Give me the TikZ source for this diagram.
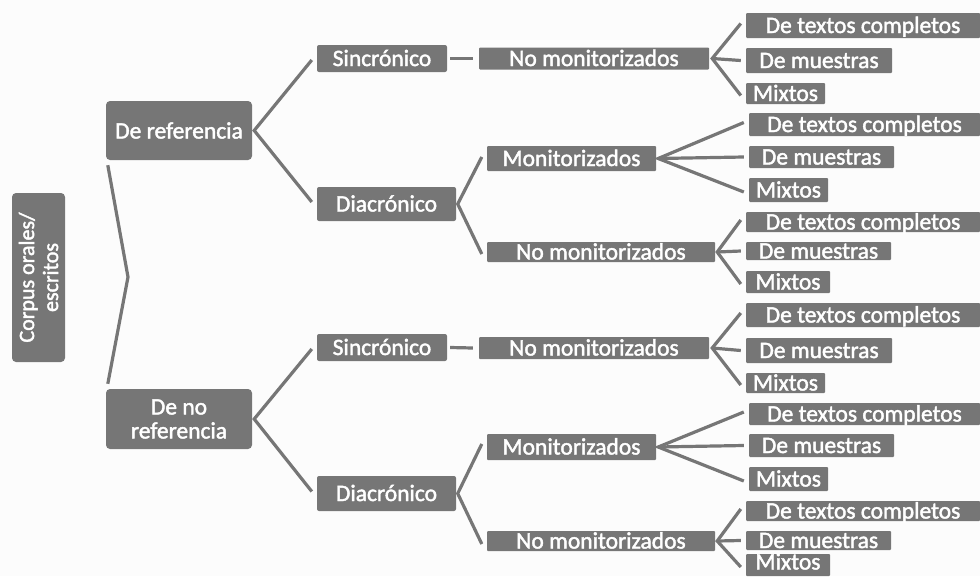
\documentclass[tikz,border=0pt]{standalone}
\usepackage{fontspec}
\setmainfont{Carlito}[FakeBold=1.8]
\usetikzlibrary{calc}
\definecolor{boxgray}{HTML}{767676}
\definecolor{paper}{HTML}{FCFCFC}
\tikzset{
  box/.style={fill=boxgray, text=white, inner sep=0pt, text height=15pt, text depth=0pt,
    font=\fontsize{23.5}{24}\selectfont, rounded corners=1pt},
  bigbox/.style={fill=boxgray, text=white, inner sep=0pt, align=center,
    font=\fontsize{23.5}{24}\selectfont, rounded corners=4pt},
  midbox/.style={box, rounded corners=2pt},
  link/.style={draw=boxgray, line width=3.2pt},
}
\begin{document}
\begin{tikzpicture}[x=1pt, y=-1pt]
\fill[paper] (0,0) rectangle (980,576);
\useasboundingbox (0,0) rectangle (980,576);
\clip (0,0) rectangle (980,576);

% root
\node[bigbox, rotate=90, minimum width=169pt, minimum height=53pt,
      font=\fontsize{22}{24}\selectfont] (root) at (38.5,277.5) {Corpus orales/\\escritos};

% first level
\node[bigbox, minimum width=146pt, minimum height=59pt] (refA) at (179,130.5) {De referencia};
\node[bigbox, minimum width=146pt, minimum height=60pt] (refB) at (179,419) {De no\\referencia};

% second level
\node[midbox, minimum width=130pt, minimum height=27pt] (sinA) at (382,58.5) {Sincrónico};
\node[midbox, minimum width=139pt, minimum height=34pt] (diaA) at (386.5,204) {Diacrónico};
\node[midbox, minimum width=130pt, minimum height=27pt] (sinB) at (382,347.5) {Sincrónico};
\node[midbox, minimum width=139pt, minimum height=35pt] (diaB) at (386.5,493.5) {Diacrónico};

% third level
\node[box, minimum width=230pt, minimum height=22pt] (nmA1) at (594,58.5) {No monitorizados};
\node[box, minimum width=169pt, minimum height=25pt] (monA) at (571.5,158.5) {Monitorizados};
\node[box, minimum width=228pt, minimum height=20pt] (nmA2) at (601,252) {No monitorizados};
\node[box, minimum width=230pt, minimum height=22pt] (nmB1) at (594,348) {No monitorizados};
\node[box, minimum width=169pt, minimum height=26pt] (monB) at (571.5,447) {Monitorizados};
\node[box, minimum width=228pt, minimum height=20pt] (nmB2) at (601,541) {No monitorizados};

% leaves
\node[box, minimum width=234pt, minimum height=25pt] (a1t) at (863,25.5) {De textos completos};
\node[box, minimum width=146pt, minimum height=25pt] (a1m) at (819,60.5) {De muestras};
\node[box, minimum width=79pt,  minimum height=21pt] (a1x) at (785.5,93.5) {Mixtos};

\node[box, minimum width=231pt, minimum height=23pt] (a2t) at (864.5,124.5) {De textos completos};
\node[box, minimum width=145pt, minimum height=22pt] (a2m) at (821.5,157) {De muestras};
\node[box, minimum width=79pt,  minimum height=24pt] (a2x) at (788.5,190) {Mixtos};

\node[box, minimum width=234pt, minimum height=20pt] (a3t) at (863,222) {De textos completos};
\node[box, minimum width=145pt, minimum height=18pt] (a3m) at (818.5,251) {De muestras};
\node[box, minimum width=84pt,  minimum height=22pt] (a3x) at (788,282) {Mixtos};

\node[box, minimum width=234pt, minimum height=24pt] (b1t) at (863,315) {De textos completos};
\node[box, minimum width=146pt, minimum height=25pt] (b1m) at (819,350.5) {De muestras};
\node[box, minimum width=79pt,  minimum height=20pt] (b1x) at (785.5,383) {Mixtos};

\node[box, minimum width=231pt, minimum height=22pt] (b2t) at (864.5,414) {De textos completos};
\node[box, minimum width=145pt, minimum height=23pt] (b2m) at (821.5,445.5) {De muestras};
\node[box, minimum width=79pt,  minimum height=24pt] (b2x) at (788.5,479) {Mixtos};

\node[box, minimum width=234pt, minimum height=20pt] (b3t) at (863,511) {De textos completos};
\node[box, minimum width=145pt, minimum height=19pt] (b3m) at (818.5,540.5) {De muestras};
% last box runs to the lower edge; its text sits a little higher
\node[box, text depth=6pt, minimum width=84pt, minimum height=22pt] (b3x) at (788,565) {Mixtos};

% brace joining the two first-level boxes
\coordinate (brace) at (128,277);
\draw[link, line join=miter] ([shift={(2pt,-5pt)}]refA.south west) -- (brace) -- ([shift={(2pt,5pt)}]refB.north west);

% first level -> second level
\foreach \p/\a/\b in {refA/sinA/diaA, refB/sinB/diaB}{
  \draw[link, line join=miter] ([xshift=-5pt,yshift=-1.5pt]\a.west) -- ([xshift=2pt]\p.east) -- ([xshift=-5pt,yshift=2pt]\b.west);
}

% synchronic -> unmonitored
\draw[link] ([xshift=3pt]sinA.east) -- ([xshift=-6pt]nmA1.west);
\draw[link] ([xshift=3pt]sinB.east) -- ([xshift=-6pt]nmB1.west);

% diachronic -> monitored / unmonitored
\draw[link, line join=miter] ([xshift=-5pt,yshift=1.5pt]monA.west) -- ([xshift=1.5pt]diaA.east) -- ([xshift=-5pt,yshift=-2pt]nmA2.west);
\draw[link, line join=miter] ([xshift=-5pt,yshift=3pt]monB.west) -- ([xshift=1.5pt]diaB.east) -- ([xshift=-5pt,yshift=-3pt]nmB2.west);

% fans to the leaves
\foreach \p/\t/\m/\x/\g in {nmA1/a1t/a1m/a1x/3, monA/a2t/a2m/a2x/2, nmA2/a3t/a3m/a3x/2,
                            nmB1/b1t/b1m/b1x/3, monB/b2t/b2m/b2x/2, nmB2/b3t/b3m/b3x/2}{
  \draw[link, line join=miter] ([xshift=-5pt,yshift=2pt]\t.west) -- ([xshift=\g pt]\p.east) -- ([xshift=-5pt,yshift=-2pt]\x.west);
  \draw[link] ([xshift=\g pt]\p.east) -- ([xshift=-5pt]\m.west);
}
\end{tikzpicture}
\end{document}
